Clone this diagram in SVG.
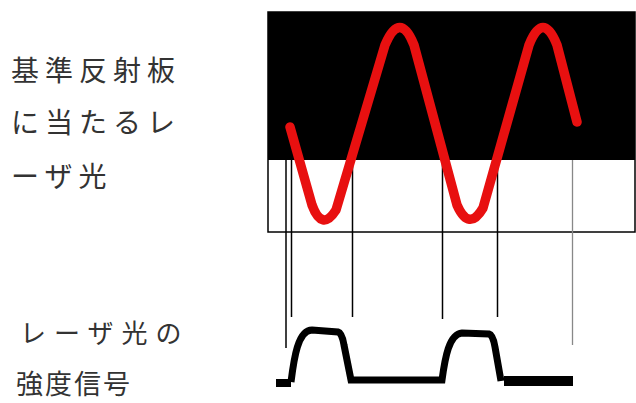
<svg xmlns="http://www.w3.org/2000/svg" width="636" height="403" viewBox="0 0 636 403">
<style>
.lbl{font-family:"Noto Sans CJK JP","Noto Sans CJK SC",sans-serif;fill:#333;}
.vl{stroke:#000;stroke-width:1.5;fill:none;}
.sig{stroke:#000;stroke-width:7;fill:none;}
</style>
<rect width="636" height="403" fill="#fff"/>
<g id="labels">
<text class="lbl" x="11" y="81" font-size="28" letter-spacing="6">基準反射板</text>
<text class="lbl" x="11" y="133" font-size="28" letter-spacing="6">に当たるレ</text>
<text class="lbl" x="11" y="187" font-size="28" letter-spacing="6">ーザ光</text>
<text class="lbl" x="20" y="343" font-size="26" letter-spacing="8">レーザ光の</text>
<text class="lbl" x="16" y="394" font-size="27" letter-spacing="2">強度信号</text>
</g>
<g id="plate">
<rect x="268" y="12" width="367" height="220" fill="#fff" stroke="#000" stroke-width="1.5"/>
<rect x="268" y="12" width="367" height="148" fill="#000"/>
</g>
<g id="connectors">
<line class="vl" x1="286" y1="160" x2="286" y2="348"/>
<line class="vl" x1="291.5" y1="160" x2="291.5" y2="317"/>
<line class="vl" x1="352.5" y1="160" x2="352.5" y2="317"/>
<line class="vl" x1="442.5" y1="160" x2="442.5" y2="319"/>
<line class="vl" x1="497.5" y1="160" x2="497.5" y2="317"/>
<line x1="572.5" y1="160" x2="572.5" y2="345" stroke="#888" stroke-width="1.3"/>
</g>
<g id="laser">
<path d="M290,127 L312,205 Q322,232 336,210 L385,45 Q400,10 414,45 L457,205 Q469,232 483,208 L529,45 Q543,10 557,45 L577,122" fill="none" stroke="#e81010" stroke-width="9.5" stroke-linecap="round" stroke-linejoin="round"/>
</g>
<g id="signal">
<rect x="276" y="379" width="15" height="8" fill="#000"/>
<path class="sig" d="M291,382 C294,358 298,330 312,330 L338,332 Q342,333 344,345 L351,380 L442,380 C445,358 449,334 462,333 L489,334 Q493,335 495,347 L501,381"/>
<rect x="504" y="376" width="69" height="10" fill="#000"/>
</g>
</svg>
